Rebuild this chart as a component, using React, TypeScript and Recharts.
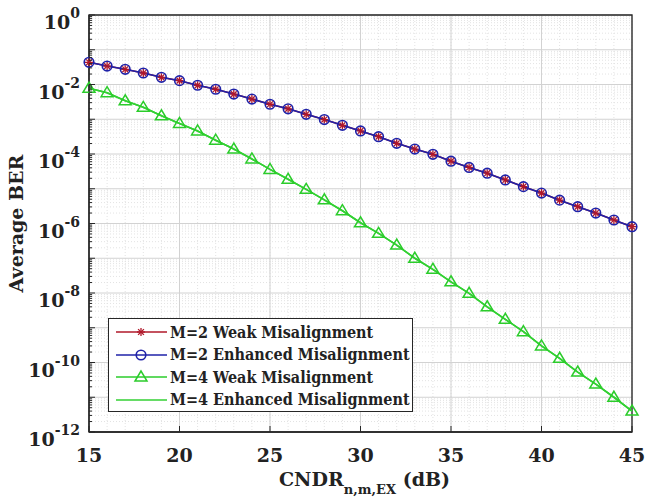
import {
  CartesianGrid,
  Legend,
  Line,
  LineChart,
  ReferenceArea,
  XAxis,
  YAxis,
} from 'recharts'

// CNDR (dB)
const cndr = [
  15, 16, 17, 18, 19, 20, 21, 22, 23, 24, 25, 26, 27, 28, 29, 30,
  31, 32, 33, 34, 35, 36, 37, 38, 39, 40, 41, 42, 43, 44, 45,
]

// M=2 curves (weak and enhanced overlap)
const m2Weak = [
  4.35e-2, 3.4e-2, 2.74e-2, 2.14e-2, 1.61e-2, 1.29e-2, 9.5e-3, 7.3e-3, 5.3e-3, 3.8e-3,
  2.7e-3, 2.0e-3, 1.39e-3, 9.8e-4, 6.7e-4, 4.6e-4, 3.15e-4, 2.03e-4, 1.39e-4, 9.8e-5,
  6.2e-5, 4.1e-5, 2.8e-5, 1.79e-5, 1.15e-5, 7.5e-6, 4.7e-6, 3.05e-6, 2.0e-6, 1.26e-6,
  8.1e-7,
]
const m2Enhanced = [
  4.35e-2, 3.4e-2, 2.74e-2, 2.14e-2, 1.61e-2, 1.29e-2, 9.5e-3, 7.3e-3, 5.3e-3, 3.8e-3,
  2.7e-3, 2.0e-3, 1.39e-3, 9.8e-4, 6.7e-4, 4.6e-4, 3.15e-4, 2.03e-4, 1.39e-4, 9.8e-5,
  6.2e-5, 4.1e-5, 2.8e-5, 1.79e-5, 1.15e-5, 7.5e-6, 4.7e-6, 3.05e-6, 2.0e-6, 1.26e-6,
  8.1e-7,
]

// M=4 curves (weak and enhanced overlap)
const m4Weak = [
  7.8e-3, 5.8e-3, 3.4e-3, 2.2e-3, 1.26e-3, 7.6e-4, 4.6e-4, 2.5e-4, 1.39e-4, 7.2e-5,
  3.6e-5, 1.87e-5, 9.6e-6, 4.8e-6, 2.33e-6, 1.05e-6, 5.2e-7, 2.4e-7, 1.0e-7, 4.8e-8,
  2.1e-8, 9.8e-9, 4.0e-9, 1.75e-9, 7.7e-10, 3.0e-10, 1.32e-10, 5.3e-11, 2.4e-11, 1.0e-11,
  4.0e-12,
]
const m4Enhanced = [
  7.8e-3, 5.8e-3, 3.4e-3, 2.2e-3, 1.26e-3, 7.6e-4, 4.6e-4, 2.5e-4, 1.39e-4, 7.2e-5,
  3.6e-5, 1.87e-5, 9.6e-6, 4.8e-6, 2.33e-6, 1.05e-6, 5.2e-7, 2.4e-7, 1.0e-7, 4.8e-8,
  2.1e-8, 9.8e-9, 4.0e-9, 1.75e-9, 7.7e-10, 3.0e-10, 1.32e-10, 5.3e-11, 2.4e-11, 1.0e-11,
  4.0e-12,
]

const xTicks = [15, 20, 25, 30, 35, 40, 45]
const xMinor = cndr
const decades = [1, 1e-1, 1e-2, 1e-3, 1e-4, 1e-5, 1e-6, 1e-7, 1e-8, 1e-9, 1e-10, 1e-11, 1e-12]
const yMinor: number[] = []
for (let k = -12; k < 0; k++) {
  for (let m = 2; m <= 9; m++) yMinor.push(m * Math.pow(10, k))
}
const yAllTicks = [...decades, ...yMinor]

const series = [
  { key: 'm2Weak', name: 'M=2 Weak Misalignment', color: '#b0182a', marker: 'star' },
  { key: 'm2Enhanced', name: 'M=2 Enhanced Misalignment', color: '#1f22a8', marker: 'circle' },
  { key: 'm4Weak', name: 'M=4 Weak Misalignment', color: '#2bcc2b', marker: 'tri' },
  { key: 'm4Enhanced', name: 'M=4 Enhanced Misalignment', color: '#33d133', marker: 'none' },
]

const data = cndr.map((x, i) => ({
  x,
  m2Weak: m2Weak[i],
  m2Enhanced: m2Enhanced[i],
  m4Weak: m4Weak[i],
  m4Enhanced: m4Enhanced[i],
}))

const FONT = '"DejaVu Serif", serif'
const AXIS = '#262626'

function Marker({ cx, cy, kind, color }: any) {
  if (cx == null || cy == null) return null
  if (kind === 'star') {
    const r = 4
    const d = 2.9
    return (
      <g stroke={color} strokeWidth={1.3}>
        <line x1={cx - r} x2={cx + r} y1={cy} y2={cy} />
        <line x1={cx} x2={cx} y1={cy - r} y2={cy + r} />
        <line x1={cx - d} x2={cx + d} y1={cy - d} y2={cy + d} />
        <line x1={cx - d} x2={cx + d} y1={cy + d} y2={cy - d} />
      </g>
    )
  }
  if (kind === 'circle') {
    return <circle cx={cx} cy={cy} r={4.8} fill="none" stroke={color} strokeWidth={1.6} />
  }
  if (kind === 'tri') {
    return (
      <polygon
        points={`${cx},${cy - 6} ${cx - 6},${cy + 4} ${cx + 6},${cy + 4}`}
        fill="none"
        stroke={color}
        strokeWidth={1.5}
      />
    )
  }
  return null
}

function LeftTick({ x, y, payload }: any) {
  const v = payload.value
  const lg = Math.log10(v)
  const exp = Math.round(lg)
  const isDecade = Math.abs(lg - exp) < 1e-6
  const len = isDecade ? 6 : 3
  const labeled = isDecade && exp % 2 === 0
  return (
    <g>
      <line x1={x} x2={x + len} y1={y} y2={y} stroke={AXIS} />
      {labeled && (
        <text
          x={x - 9}
          y={y + 14}
          textAnchor="end"
          fontFamily={FONT}
          fontWeight="bold"
          fontSize={19}
          fill="#222"
        >
          10
          <tspan dy={-11} fontSize={14}>
            {exp}
          </tspan>
        </text>
      )}
    </g>
  )
}

function RightTick({ x, y, payload }: any) {
  const lg = Math.log10(payload.value)
  const isDecade = Math.abs(lg - Math.round(lg)) < 1e-6
  const len = isDecade ? 6 : 3
  return <line x1={x - len} x2={x} y1={y} y2={y} stroke={AXIS} />
}

function BottomTick({ x, y, payload }: any) {
  return (
    <g>
      <line x1={x} x2={x} y1={y} y2={y - 6} stroke={AXIS} />
      <text
        x={x}
        y={y + 30}
        textAnchor="middle"
        fontFamily={FONT}
        fontWeight="bold"
        fontSize={19}
        fill="#222"
      >
        {payload.value}
      </text>
    </g>
  )
}

function TopTick({ x, y }: any) {
  return <line x1={x} x2={x} y1={y} y2={y + 6} stroke={AXIS} />
}

function XTitle({ viewBox }: any) {
  const cx = viewBox.x + viewBox.width / 2 + 4
  return (
    <text
      x={cx}
      y={viewBox.y + 54}
      textAnchor="middle"
      fontFamily={FONT}
      fontWeight="bold"
      fontSize={19}
      fill="#222"
    >
      CNDR
      <tspan dy={8} fontSize={13}>
        n,m,EX
      </tspan>
      <tspan dy={-8}> (dB)</tspan>
    </text>
  )
}

function YTitle({ viewBox }: any) {
  const cy = viewBox.y + viewBox.height / 2
  const cx = 16
  return (
    <text
      x={cx}
      y={cy}
      transform={`rotate(-90 ${cx} ${cy})`}
      textAnchor="middle"
      dominantBaseline="central"
      fontFamily={FONT}
      fontWeight="bold"
      fontSize={19}
      fill="#222"
    >
      Average BER
    </text>
  )
}

function LegendBox() {
  return (
    <div
      style={{
        width: 305,
        height: 94,
        boxSizing: 'border-box',
        border: `1.5px solid ${AXIS}`,
        background: '#fff',
        padding: '2px 4px 2px 2px',
        fontFamily: FONT,
        fontWeight: 'bold',
        fontSize: 16,
        fontStretch: 'condensed',
        color: '#222',
      }}
    >
      {series.map((s) => (
        <div key={s.key} style={{ display: 'flex', alignItems: 'center', height: 22.5 }}>
          <svg width={59} height={20} style={{ flex: 'none' }}>
            <line x1={5} x2={56} y1={10} y2={10} stroke={s.color} strokeWidth={1.5} />
            <Marker cx={30} cy={10} kind={s.marker} color={s.color} />
          </svg>
          <span style={{ whiteSpace: 'nowrap' }}>{s.name}</span>
        </div>
      ))}
    </div>
  )
}

export default function App() {
  return (
    <div style={{ position: 'absolute', left: 0, top: 0, background: '#fff' }}>
      <LineChart
        width={645}
        height={502}
        data={data}
        margin={{ top: 15, right: 13, bottom: 10, left: 0 }}
      >
        <CartesianGrid
          stroke="#e3e3e3"
          strokeDasharray="1 2"
          verticalValues={xMinor}
          horizontalValues={yMinor}
        />
        <CartesianGrid stroke="#d2d2d2" verticalValues={xTicks} horizontalValues={decades} />
        <XAxis
          dataKey="x"
          type="number"
          domain={[15, 45]}
          ticks={xTicks}
          interval={0}
          height={60}
          tickSize={0}
          tickMargin={0}
          tickLine={false}
          axisLine={{ stroke: AXIS, strokeWidth: 1.3 }}
          tick={<BottomTick />}
          label={<XTitle />}
        />
        <XAxis
          xAxisId="top"
          orientation="top"
          dataKey="x"
          type="number"
          domain={[15, 45]}
          ticks={xTicks}
          interval={0}
          height={0}
          tickSize={0}
          tickMargin={0}
          tickLine={false}
          axisLine={{ stroke: AXIS, strokeWidth: 1.3 }}
          tick={<TopTick />}
        />
        <YAxis
          scale="log"
          type="number"
          domain={[1e-12, 1]}
          allowDataOverflow
          ticks={yAllTicks}
          interval={0}
          width={89}
          tickSize={0}
          tickMargin={0}
          tickLine={false}
          axisLine={{ stroke: AXIS, strokeWidth: 1.3 }}
          tick={<LeftTick />}
          label={<YTitle />}
        />
        <YAxis
          yAxisId="right"
          orientation="right"
          scale="log"
          type="number"
          domain={[1e-12, 1]}
          allowDataOverflow
          ticks={yAllTicks}
          interval={0}
          width={0}
          tickSize={0}
          tickMargin={0}
          tickLine={false}
          axisLine={{ stroke: AXIS, strokeWidth: 1.3 }}
          tick={<RightTick />}
        />
        <ReferenceArea x1={15} x2={45} y1={1e-12} y2={1} fill="none" stroke={AXIS} strokeWidth={1.3} />
        {series.map((s) => (
          <Line
            key={s.key}
            dataKey={s.key}
            name={s.name}
            type="linear"
            stroke={s.color}
            strokeWidth={1.6}
            dot={s.marker === 'none' ? false : <Marker kind={s.marker} color={s.color} />}
            activeDot={false}
            isAnimationActive={false}
          />
        ))}
        <Legend
          layout="vertical"
          align="center"
          verticalAlign="middle"
          wrapperStyle={{ left: 108, top: 318, width: 305 }}
          content={<LegendBox />}
        />
      </LineChart>
    </div>
  )
}
